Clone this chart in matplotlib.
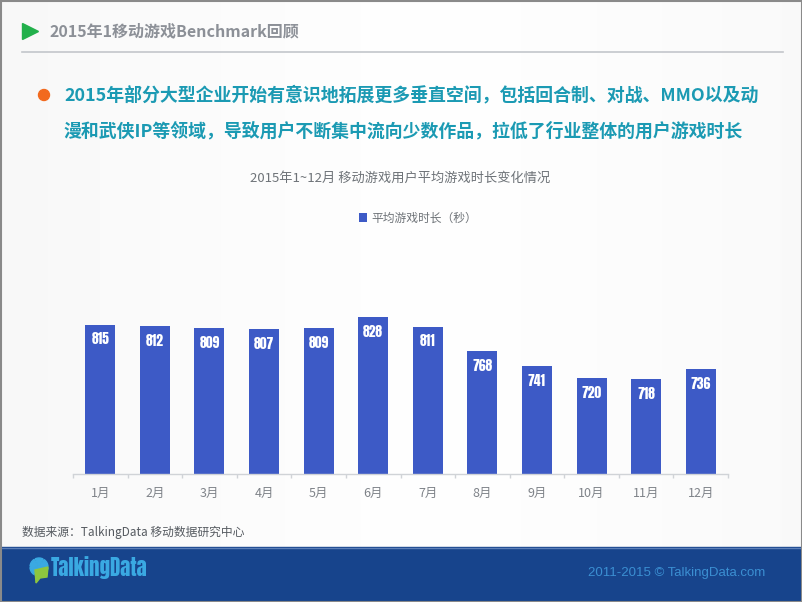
import matplotlib
matplotlib.use("Agg")
import matplotlib.pyplot as plt
import numpy as np
from matplotlib.patches import Rectangle, Circle, Wedge, Polygon

# data
months = ["1月", "2月", "3月", "4月", "5月", "6月",
          "7月", "8月", "9月", "10月", "11月", "12月"]
play_time = [815, 812, 809, 807, 809, 828, 811, 768, 741, 720, 718, 736]
series_name = "平均游戏时长（秒）"

header = "2015年1移动游戏Benchmark回顾"
bullet_lines = ["2015年部分大型企业开始有意识地拓展更多垂直空间，包括回合制、对战、MMO以及动",
                "漫和武侠IP等领域，导致用户不断集中流向少数作品，拉低了行业整体的用户游戏时长"]
chart_title = "2015年1~12月 移动游戏用户平均游戏时长变化情况"
source = "数据来源：TalkingData 移动数据研究中心"
copyright_txt = "2011-2015 © TalkingData.com"

# colours
C_BAR = "#3D5AC6"
C_TEAL = "#1B9AB3"
C_ORANGE = "#F26A1E"
C_GREEN = "#22B04B"
C_GREY = "#8C9097"
C_FOOT = "#17448C"
C_LOGO = "#3AA9E2"

CJK = ["Noto Sans CJK SC", "DejaVu Sans"]
NARROW = ["Anton", "DejaVu Sans"]
plt.rcParams["font.family"] = CJK

W, H = 802, 602
fig = plt.figure(figsize=(W / 100, H / 100), dpi=100)

# background axes in pixel coords
bg = fig.add_axes([0, 0, 1, 1])
bg.set_xlim(0, W)
bg.set_ylim(H, 0)
bg.axis("off")
grad = np.linspace(0, 1, 200)
grad = 1 - 0.9 * np.abs(grad - 0.55) ** 1.3
bg.imshow(np.tile(grad, (10, 1)), cmap="Greys_r", vmin=-7, vmax=1.05,
          extent=[0, W, H, 0], aspect="auto", zorder=0)

# header
bg.plot([30], [31], marker=">", color=C_GREEN, ms=11, zorder=3)
bg.text(50, 31, header, fontsize=11.5, fontweight="bold", color=C_GREY,
        va="center", ha="left")
bg.plot([22, 783], [52, 52], color="#C3C6CB", lw=1.2)

# bullet text
bg.add_patch(Circle((44, 95), 5.5, color=C_ORANGE, zorder=3))
bg.text(64, 95, bullet_lines[0], fontsize=12.9, fontweight="bold", color=C_TEAL,
        va="center", ha="left")
bg.text(64, 131, bullet_lines[1], fontsize=12.9, fontweight="bold", color=C_TEAL,
        va="center", ha="left")

# chart title
bg.text(400, 178, chart_title, fontsize=9.5, color="#6E7378",
        ha="center", va="center")

# source
bg.text(22, 532, source, fontsize=8.5, color="#555A60", va="center")

# footer
bg.add_patch(Rectangle((0, 547), W, H - 547, color=C_FOOT, zorder=2))
bg.plot([0, W], [547.5, 547.5], color="#5C7FB8", lw=1, zorder=3)
bg.text(765, 573, copyright_txt, fontsize=9.5, color="#3B8FD2",
        family=["Liberation Sans", "DejaVu Sans"], ha="right", va="center",
        zorder=4)
# logo
cx, cy = 39, 567
for i in range(6):
    bg.add_patch(Wedge((cx, cy), 9, 60 * i + 5, 60 * i + 57, color=C_LOGO,
                       zorder=4))
bg.add_patch(Polygon([[35, 570], [48, 567], [47, 577], [40, 578], [36, 583]],
                     closed=True, color="#8DC63F", zorder=5))
bg.text(51, 568, "TalkingData", fontsize=15, color=C_LOGO,
        family=NARROW, va="center", ha="left", zorder=4)

# slide border
bg.add_patch(Rectangle((0.5, 0.5), W - 1, H - 1, fill=False, ec="#8A8A8A",
                       lw=1.5, zorder=6))

# chart axes
left, right, top, base = 73, 728, 240, 474
ax = fig.add_axes([left / W, 1 - base / H, (right - left) / W, (base - top) / H])
ax.set_facecolor("none")
x = np.arange(len(months))
bars = ax.bar(x, play_time, width=0.55, color=C_BAR, label=series_name,
              zorder=2)
ax.set_xlim(-0.5, len(months) - 0.5)
ax.set_ylim(550, 965)

for xi, v in zip(x, play_time):
    ax.annotate(str(v), (xi, v), xytext=(0, -10.5), textcoords="offset points",
                ha="center", va="center", color="white", fontsize=9.8,
                family=NARROW)

ax.set_xticks(x)
ax.set_xticklabels(months, fontsize=9, color="#7F8389")
ax.set_xticks(np.arange(-0.5, len(months)), minor=True)
ax.tick_params(axis="x", which="major", length=0, pad=9)
ax.tick_params(axis="x", which="minor", length=3, color="#D0D3D7", width=1)
ax.set_yticks([])
for s in ["top", "right", "left"]:
    ax.spines[s].set_visible(False)
ax.spines["bottom"].set_color("#D0D3D7")
ax.spines["bottom"].set_linewidth(1)

leg = ax.legend(loc="center", bbox_to_anchor=(418 / W, 1 - 218 / H),
                bbox_transform=fig.transFigure, frameon=False, fontsize=8.5,
                handlelength=0.7, handleheight=0.7, handletextpad=0.4)
for t in leg.get_texts():
    t.set_color("#6E7378")

fig.savefig("out.png", dpi=100)
plt.close(fig)
